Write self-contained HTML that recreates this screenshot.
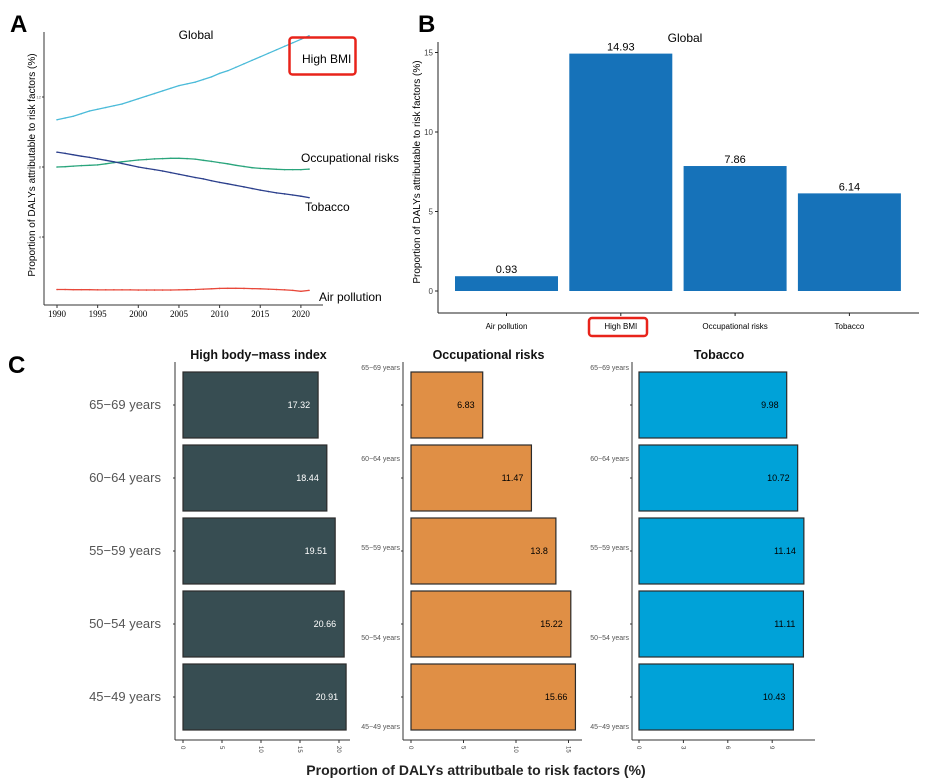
<!DOCTYPE html>
<html><head><meta charset="utf-8">
<style>
html,body{margin:0;padding:0;background:#fff;}
svg{display:block;font-family:"Liberation Sans",Arial,sans-serif;}
</style></head>
<body>
<svg id="root" width="927" height="782" viewBox="0 0 927 782" xmlns="http://www.w3.org/2000/svg">
<text x="10" y="32" font-size="24" font-weight="bold">A</text>
<text x="418" y="32" font-size="24" font-weight="bold">B</text>
<text x="8" y="373" font-size="24" font-weight="bold">C</text>
<g id="pa"></g>
<g id="pb"></g>
<g id="pc"></g>
</svg>
<script>
// ---- Panel A data ----
const years = [1990,1991,1992,1993,1994,1995,1996,1997,1998,1999,2000,2001,2002,2003,2004,2005,2006,2007,2008,2009,2010,2011,2012,2013,2014,2015,2016,2017,2018,2019,2020,2021];
const highBMI = [10.7,10.8,10.9,11.05,11.2,11.3,11.4,11.5,11.6,11.75,11.9,12.05,12.2,12.35,12.5,12.65,12.75,12.85,13.0,13.15,13.35,13.5,13.7,13.9,14.1,14.3,14.5,14.7,14.9,15.1,15.3,15.5];
const occRisk = [8.0,8.02,8.05,8.08,8.1,8.12,8.18,8.25,8.3,8.35,8.4,8.43,8.46,8.48,8.5,8.5,8.48,8.45,8.38,8.32,8.25,8.18,8.1,8.03,7.96,7.92,7.9,7.87,7.85,7.85,7.85,7.88];
const tobacco = [8.85,8.78,8.7,8.62,8.55,8.46,8.38,8.3,8.2,8.1,8.0,7.92,7.85,7.77,7.68,7.58,7.49,7.4,7.32,7.22,7.12,7.04,6.95,6.86,6.77,6.68,6.6,6.52,6.46,6.4,6.33,6.25];
const airPol = [1.0,1.0,0.99,0.99,0.99,0.98,0.98,0.98,0.98,0.98,0.97,0.97,0.97,0.97,0.97,0.98,0.99,1.0,1.02,1.04,1.06,1.07,1.07,1.06,1.05,1.04,1.02,1.0,0.98,0.95,0.9,0.95];
const aTicksY = [4,8,12];
const aTicksX = [1990,1995,2000,2005,2010,2015,2020];
// ---- Panel B data ----
const bCats = ["Air pollution","High BMI","Occupational risks","Tobacco"];
const bVals = [0.93,14.93,7.86,6.14];
const bTicks = [0,5,10,15];
// ---- Panel C data ----
const ages = ["65\u221269 years","60\u221264 years","55\u221259 years","50\u221254 years","45\u221249 years"];
const bmiAge = [17.32,18.44,19.51,20.66,20.91];
const occAge = [6.83,11.47,13.8,15.22,15.66];
const tobAge = [9.98,10.72,11.14,11.11,10.43];
const c1Ticks = [0,5,10,15,20];
const c2Ticks = [0,5,10,15];
const c3Ticks = [0,3,6,9];

const NS="http://www.w3.org/2000/svg";
function mk(parent,tag,attrs,text){const e=document.createElementNS(NS,tag);for(const k in attrs)e.setAttribute(k,attrs[k]);if(text!==undefined)e.textContent=text;parent.appendChild(e);return e;}

// ===== Panel A =====
const pa=document.getElementById('pa');
const ax=y=>57+(y-1990)*8.13;
const ay=v=>307-v*17.5;
let e;
e=mk(pa,'line',{x1:44,y1:32,x2:44,y2:305,stroke:'#333','stroke-width':1});


e=mk(pa,'line',{x1:44,y1:305,x2:323,y2:305,stroke:'#333','stroke-width':1});


aTicksY.forEach(t=>{
  mk(pa,'line',{x1:42,y1:ay(t),x2:44,y2:ay(t),stroke:'#333'});
  e=mk(pa,'text',{x:41,y:ay(t)+1.5,'font-size':4,'text-anchor':'end',fill:'#555'},String(t));
  
  
});
aTicksX.forEach(t=>{
  mk(pa,'line',{x1:ax(t),y1:305,x2:ax(t),y2:308,stroke:'#333'});
  e=mk(pa,'text',{x:ax(t),y:317,'font-size':9,'text-anchor':'middle','font-family':'Liberation Serif, serif'},String(t));
  
  
});
e=mk(pa,'text',{x:0,y:0,'font-size':10,'text-anchor':'middle',transform:'translate(35,165) rotate(-90)'},'Proportion of DALYs attributable to risk factors (%)');


e=mk(pa,'text',{x:196,y:39,'font-size':12,'text-anchor':'middle'},'Global');


const series=[[highBMI,'#4bbbd9','high-bmi-line'],[occRisk,'#2aa57c','occupational-line'],[tobacco,'#2b3f8c','tobacco-line'],[airPol,'#e8483a','air-pollution-line']];
series.forEach(s=>{
  const pts=years.map((y,i)=>ax(y).toFixed(1)+','+ay(s[0][i]).toFixed(1)).join(' ');
  e=mk(pa,'polyline',{points:pts,fill:'none',stroke:s[1],'stroke-width':1.3});
  
  
  years.forEach((y,i)=>{mk(pa,'circle',{cx:ax(y),cy:ay(s[0][i]),r:0.8,fill:s[1]});});
});
e=mk(pa,'rect',{x:289.5,y:37.5,width:66,height:37,rx:3,fill:'none',stroke:'#e8231a','stroke-width':2.5});


[['High BMI',302,63,'label-high-bmi'],['Occupational risks',301,162,'label-occupational'],['Tobacco',305,211,'label-tobacco'],['Air pollution',319,301,'label-air-pollution']].forEach(l=>{
  e=mk(pa,'text',{x:l[1],y:l[2],'font-size':12},l[0]);
  
  
});

// ===== Panel B =====
const pb=document.getElementById('pb');
const by=v=>291-v*15.9;
const bx0=455, bw=103, bstep=114.3;
e=mk(pb,'line',{x1:438,y1:42,x2:438,y2:313,stroke:'#222'});


e=mk(pb,'line',{x1:438,y1:313,x2:919,y2:313,stroke:'#222'});


bTicks.forEach(t=>{
  mk(pb,'line',{x1:435,y1:by(t),x2:438,y2:by(t),stroke:'#222'});
  e=mk(pb,'text',{x:433,y:by(t)+3,'font-size':8,'text-anchor':'end',fill:'#444'},String(t));
  
  
});
e=mk(pb,'text',{x:0,y:0,'font-size':10,'text-anchor':'middle',transform:'translate(420,172) rotate(-90)'},'Proportion of DALYs attributable to risk factors (%)');


e=mk(pb,'text',{x:685,y:42,'font-size':12,'text-anchor':'middle'},'Global');


bCats.forEach((c,i)=>{
  const x=bx0+i*bstep;
  e=mk(pb,'rect',{x:x,y:by(bVals[i]),width:bw,height:by(0)-by(bVals[i]),fill:'#1672b9'});
  
  
  e=mk(pb,'text',{x:x+bw/2,y:by(bVals[i])-3,'font-size':11,'text-anchor':'middle'},String(bVals[i]));
  
  
  mk(pb,'line',{x1:x+bw/2,y1:313,x2:x+bw/2,y2:316,stroke:'#222'});
  e=mk(pb,'text',{x:x+bw/2,y:329,'font-size':8,'text-anchor':'middle'},c);
  
  
});
e=mk(pb,'rect',{x:589,y:318,width:58,height:18,rx:3,fill:'none',stroke:'#e8231a','stroke-width':2.5});



// ===== Panel C =====
const pc=document.getElementById('pc');
const rowTop=[372,445,518,591,664], rowH=66;
const facets=[
 {title:'High body\u2212mass index',vals:bmiAge,ticks:c1Ticks,axis:175,x0:183,k:7.8,right:350,fill:'#374d52',lab:'#fff',name:'bmi'},
 {title:'Occupational risks',vals:occAge,ticks:c2Ticks,axis:403,x0:411,k:10.5,right:582,fill:'#e08f45',lab:'#000',name:'occupational'},
 {title:'Tobacco',vals:tobAge,ticks:c3Ticks,axis:632,x0:639,k:14.8,right:815,fill:'#00a2d8',lab:'#000',name:'tobacco'}
];
facets.forEach((f,fi)=>{
  e=mk(pc,'line',{x1:f.axis,y1:362,x2:f.axis,y2:740,stroke:'#333'});
  
  
  e=mk(pc,'line',{x1:f.axis,y1:740,x2:f.right,y2:740,stroke:'#333'});
  
  
  e=mk(pc,'text',{x:(f.x0+f.right)/2-8,y:359,'font-size':12.5,'font-weight':'bold','text-anchor':'middle',fill:'#111'},f.title);
  
  
  f.ticks.forEach(t=>{
    const x=f.x0+t*f.k;
    mk(pc,'line',{x1:x,y1:740,x2:x,y2:743,stroke:'#333'});
    e=mk(pc,'text',{x:0,y:0,'font-size':6,fill:'#444',transform:'translate('+(x-2)+',746) rotate(90)'},String(t));
    
    
  });
  f.vals.forEach((v,i)=>{
    const y=rowTop[i];
    mk(pc,'line',{x1:f.axis-2,y1:y+rowH/2,x2:f.axis,y2:y+rowH/2,stroke:'#333'});
    e=mk(pc,'rect',{x:f.x0,y:y,width:v*f.k,height:rowH,fill:f.fill,stroke:'#2b2b2b','stroke-width':1.2});
    
    
    e=mk(pc,'text',{x:f.x0+v*f.k-8,y:y+rowH/2+3,'font-size':9,'text-anchor':'end',fill:f.lab},String(v));
    
    
  });
});
// big age labels for first facet
ages.forEach((a,i)=>{
  e=mk(pc,'text',{x:161,y:rowTop[i]+rowH/2+4,'font-size':13,'text-anchor':'end',fill:'#555'},a);
  
  
});
// small age labels for facets 2,3
const smallY=[370,461,550,640,729];
[400,629].forEach(xr=>{
  ages.forEach((a,i)=>{
    e=mk(pc,'text',{x:xr,y:smallY[i],'font-size':7,'text-anchor':'end',fill:'#555'},a);
    
    
  });
});
e=mk(pc,'text',{x:476,y:775,'font-size':14,'font-weight':'bold','text-anchor':'middle',fill:'#222'},'Proportion of DALYs  attributbale to risk factors (%)');


</script>
</body></html>
